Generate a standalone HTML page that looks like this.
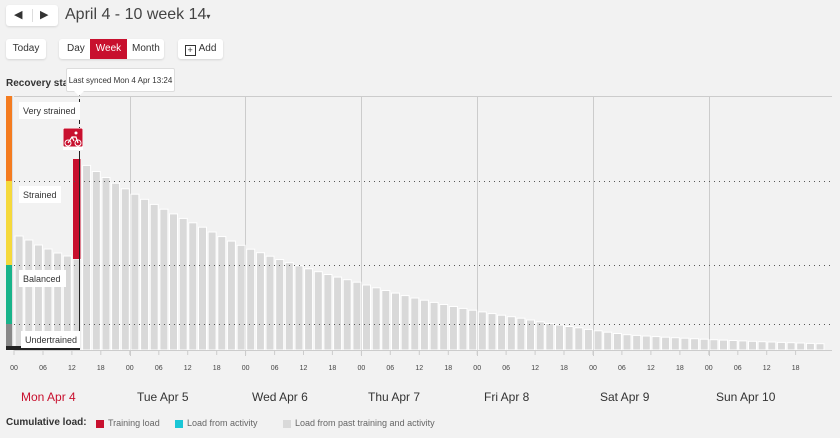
<!DOCTYPE html>
<html><head><meta charset="utf-8"><style>
body{margin:0;width:840px;height:438px;background:#f2f2f2;font-family:"Liberation Sans",sans-serif;overflow:hidden;position:relative;color:#333}
.b{position:absolute;background:#fff;border-radius:3px;box-shadow:0 1px 2px rgba(0,0,0,.12);font-size:10px;line-height:20px;text-align:center}
</style></head><body>
<div class="b" style="left:6px;top:5px;width:52px;height:21px;font-size:11px">
<span style="position:absolute;left:8px;top:0">◀</span><span style="position:absolute;left:26px;top:4px;width:1px;height:13px;background:#ddd"></span><span style="position:absolute;left:34px;top:0">▶</span></div>
<div style="position:absolute;left:65px;top:6px;font-size:16px;color:#444">April 4 - 10 week 14<span style="font-size:8px">▾</span></div>
<div class="b" style="left:6px;top:39px;width:40px;height:20px">Today</div>
<div class="b" style="left:59px;top:39px;width:105px;height:20px;text-align:left">
<span style="position:absolute;left:8px">Day</span><span style="position:absolute;left:31px;width:37px;background:#c8102e;color:#fff;text-align:center">Week</span><span style="position:absolute;left:73px">Month</span></div>
<div class="b" style="left:178px;top:39px;width:45px;height:20px"><span style="display:inline-block;width:9px;height:9px;border:1px solid #333;vertical-align:-2px;font-size:9px;line-height:9px;margin-right:3px">+</span>Add</div>
<div style="position:absolute;left:6px;top:78px;font-size:10px;font-weight:bold">Recovery status</div>
<svg id="s" width="840" height="438" style="position:absolute;left:0;top:0"></svg>
<div style="position:absolute;left:66px;top:68px;width:109px;height:24px;background:#fff;border:1px solid #ddd;border-radius:2px;font-size:8px;line-height:24px;text-align:center;box-sizing:border-box">Last synced Mon 4 Apr 13:24</div>
<div style="position:absolute;left:6px;top:417px;font-size:10px;font-weight:bold">Cumulative load:</div>
<div style="position:absolute;left:96px;top:420px;width:8px;height:8px;background:#c8102e"></div>
<div style="position:absolute;left:108px;top:418px;font-size:9px;color:#666">Training load</div>
<div style="position:absolute;left:175px;top:420px;width:8px;height:8px;background:#1ac6d6"></div>
<div style="position:absolute;left:187px;top:418px;font-size:9px;color:#666">Load from activity</div>
<div style="position:absolute;left:283px;top:420px;width:8px;height:8px;background:#d9d9d9"></div>
<div style="position:absolute;left:295px;top:418px;font-size:9px;color:#666">Load from past training and activity</div>
<script>
(function(){
var s='',P=9.65,X0=14.3;
function r(x,y,w,h,f,ex){s+='<rect x="'+x+'" y="'+y+'" width="'+w+'" height="'+h+'" fill="'+f+'" '+(ex||'')+'/>';}
function l(x1,y1,x2,y2,c,ex){s+='<line x1="'+x1+'" y1="'+y1+'" x2="'+x2+'" y2="'+y2+'" stroke="'+c+'" '+(ex||'')+'/>';}
function t(x,y,txt,sz,c,ex){s+='<text x="'+x+'" y="'+y+'" font-size="'+sz+'" fill="'+c+'" '+(ex||'')+'>'+txt+'</text>';}
l(14,96.5,832,96.5,'#ccc');
var days=[14,130,245,361,477,593,709];
for(var i=1;i<7;i++)l(days[i]+.5,96,days[i]+.5,356,'#ccc');
var pre=[236,240,245,249,253,256,259];
var pts=[[83,187],[200,124],[245,103],[360,67],[520,32],[580,22],[630,15],[700,11],[800,7],[830,6]];
function hh(x){for(var k=0;k<pts.length-1;k++){var a=pts[k],b=pts[k+1];if(x<=b[0]){var f=(x-a[0])/(b[0]-a[0]);return Math.exp(Math.log(a[1])*(1-f)+Math.log(b[1])*f);}}return 6;}
for(var i=0;i<84;i++){var x=X0+P*i+0.8,ty;
 if(i<7)ty=pre[i];else ty=350-hh(x+4);
 r(x.toFixed(1),ty.toFixed(1),8,(350-ty).toFixed(1),'#d9d9d9','stroke="#fff" stroke-width="1"');}
r(73,159,7.5,100,'#c8102e');
[181,265,324].forEach(function(y){l(14,y+.5,832,y+.5,'#555','stroke-dasharray="1,4"');});
l(14,350.5,832,350.5,'#ccc');
r(6,96,6,85,'#f47c20');r(6,181,6,84,'#f5d93c');r(6,265,6,59,'#19b38a');r(6,324,6,26,'#888');
l(12.5,96,12.5,350,'#ddd');
r(6,346,74,4,'#222');
l(79.5,92,79.5,128,'#222','stroke-dasharray="4,3"');l(79.5,151,79.5,350,'#222');
[[19,102,61,'Very strained'],[19,186,42,'Strained'],[19,270,47,'Balanced'],[21,331,59,'Undertrained']].forEach(function(z){r(z[0],z[1],z[2],17,'#fff');t(z[0]+4,z[1]+12,z[3],9,'#333');});
r(63,128,20,22,'#fff');r(63.5,128.5,19,18,'#c8102e','rx="1"');
s+='<circle cx="68" cy="143" r="3" fill="none" stroke="#fff" stroke-width="1"/><circle cx="78" cy="143" r="3" fill="none" stroke="#fff" stroke-width="1"/><circle cx="76" cy="133" r="1.5" fill="#fff"/><path d="M68 143 L72 137 L76 137 L78 143 M72 137 L74 141" stroke="#fff" fill="none" stroke-width="1.2"/>';
var lab=['00','06','12','18'];
for(var i=0;i<28;i++){var x=14+i*115.8/4;l(x.toFixed(1),350,x.toFixed(1),355,'#ccc');t(x.toFixed(1),370,lab[i%4],7,'#444','text-anchor="middle"');}
var dn=['Mon Apr 4','Tue Apr 5','Wed Apr 6','Thu Apr 7','Fri Apr 8','Sat Apr 9','Sun Apr 10'];
for(var i=0;i<7;i++)t(days[i]+7,401,dn[i],12,i==0?'#c8102e':'#333');
document.getElementById('s').innerHTML=s;
})();
</script>
<div style="position:absolute;left:74px;top:91px;width:0;height:0;border-left:5px solid transparent;border-right:5px solid transparent;border-top:5px solid #fff"></div>
</body></html>
